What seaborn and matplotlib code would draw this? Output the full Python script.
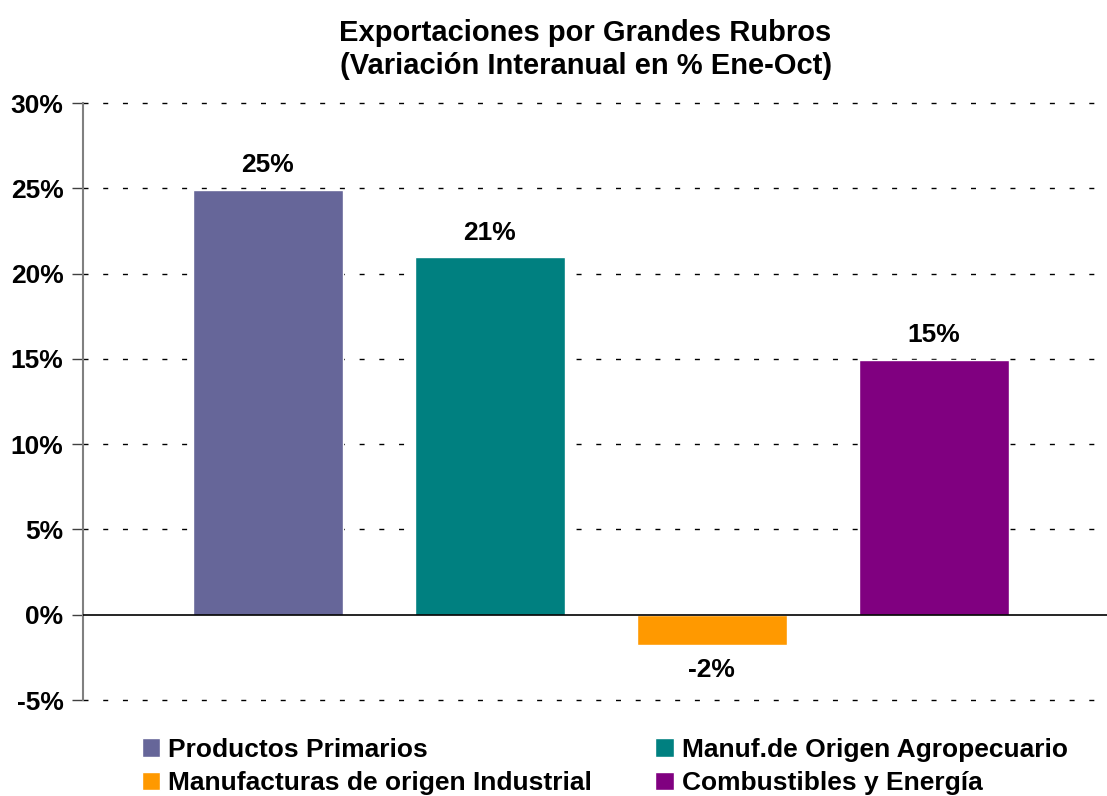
import matplotlib
matplotlib.use("Agg")
import matplotlib.pyplot as plt
import seaborn as sns
import pandas as pd

rubros = [
    "Productos Primarios",
    "Manuf.de Origen Agropecuario",
    "Manufacturas de origen Industrial",
    "Combustibles y Energía",
]
variacion = [24.9, 20.95, -1.8, 14.95]
etiquetas = ["25%", "21%", "-2%", "15%"]
colores = ["#666699", "#008080", "#FF9900", "#800080"]
yticks = [-5, 0, 5, 10, 15, 20, 25, 30]

sns.set_style("white")
plt.rcParams["font.family"] = ["Liberation Sans", "DejaVu Sans"]
plt.rcParams["font.weight"] = "bold"
plt.rcParams["text.color"] = "black"
plt.rcParams["ytick.labelcolor"] = "black"

df = pd.DataFrame({"rubro": rubros, "var": variacion})

fig = plt.figure(figsize=(11.07, 7.96), dpi=100)
ax = fig.add_axes([0.075, 0.1206, 0.925, 0.75])

sns.barplot(df, x="rubro", y="var", hue="rubro", palette=colores,
            width=0.675, saturation=1, legend=True, ax=ax)

ax.set_ylim(-5, 30)
ax.set_xlim(-0.833, 3.78)
ax.set_yticks(yticks)
ax.set_yticklabels([f"{t}%" for t in yticks], fontsize=19, fontweight="bold", color="black")
ax.set_xticks([])
ax.set_xlabel("")
ax.set_ylabel("")

for t in yticks:
    if t != 0:
        ax.axhline(t, color="black", lw=1, ls=(0, (3.6, 10.6)), zorder=0, clip_on=False)
ax.axhline(0, color="black", lw=1.2, zorder=3)

for s in ["top", "right", "bottom"]:
    ax.spines[s].set_visible(False)
ax.spines["left"].set_color("#808080")
ax.spines["left"].set_linewidth(1.5)
ax.tick_params(axis="y", length=8, width=1, color="#404040", pad=6, left=True)

for i, (v, lab) in enumerate(zip(variacion, etiquetas)):
    if v >= 0:
        ax.annotate(lab, (i, v), xytext=(0, 9), textcoords="offset points",
                    ha="center", va="bottom", fontsize=19, fontweight="bold")
    else:
        ax.annotate(lab, (i, v), xytext=(0, -9), textcoords="offset points",
                    ha="center", va="top", fontsize=19, fontweight="bold")

fig.text(0.529, 0.938, "Exportaciones por Grandes Rubros\n(Variación Interanual en % Ene-Oct)",
         ha="center", va="center", fontsize=21, fontweight="bold", linespacing=1.2)

handles, labels = ax.get_legend_handles_labels()
ax.get_legend().remove()
orden = [0, 2, 1, 3]
fig.legend([handles[i] for i in orden], [labels[i] for i in orden],
           loc="upper left", bbox_to_anchor=(0.128, 0.073), ncol=2,
           frameon=False, fontsize=19, handlelength=0.7, handleheight=0.7,
           handletextpad=0.3, columnspacing=2.4, labelspacing=0.35,
           borderaxespad=0, borderpad=0)

fig.savefig("out.png", dpi=100)
